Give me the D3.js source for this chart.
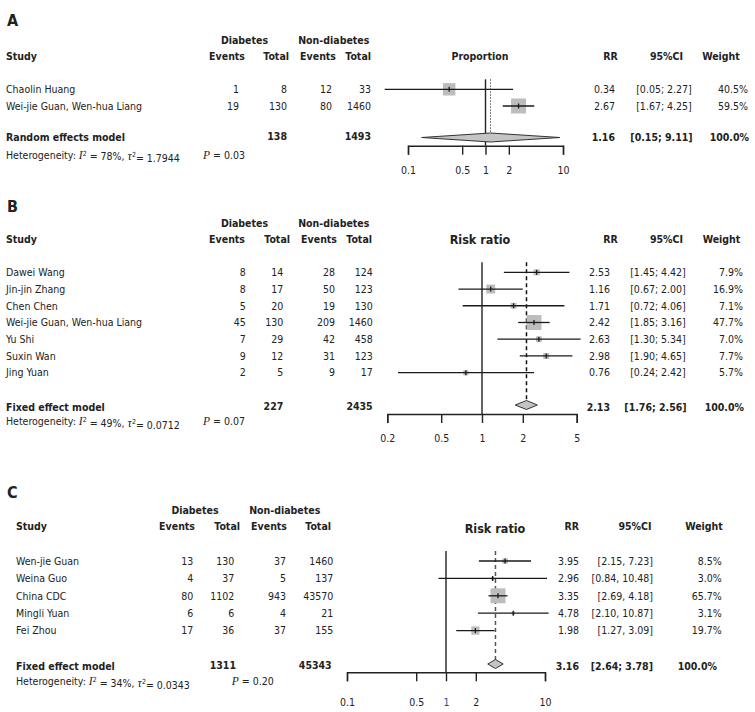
<!DOCTYPE html>
<html><head><meta charset="utf-8">
<script src="https://cdn.jsdelivr.net/npm/d3@7"></script>
<style>
body{margin:0;background:#fff}
svg text{font-family:"DejaVu Sans Condensed","DejaVu Sans",sans-serif;font-size:10.5px;fill:#222}
</style>
</head><body>
<svg id="chart" width="755" height="712"></svg>
<script>
// ---------- Panel A data ----------
const studiesA = ["Chaolin Huang", "Wei-jie Guan, Wen-hua Liang"];
const diabEventsA = [1, 19];
const diabTotalA = [8, 130];
const nonEventsA = [12, 80];
const nonTotalA = [33, 1460];
const rrA = [0.34, 2.67];
const lowerA = [0.05, 1.67];
const upperA = [2.27, 4.25];
const weightA = [40.5, 59.5];
const summaryA = [1.16, 0.15, 9.11];       // RR, lower, upper
const summaryTotalsA = [138, 1493];
const hetA = ["78%", "1.7944", "0.03"];      // I2, tau2, P
const ticksA = [0.1, 0.5, 1, 2, 10];

// ---------- Panel B data ----------
const studiesB = ["Dawei Wang", "Jin-jin Zhang", "Chen Chen", "Wei-jie Guan, Wen-hua Liang", "Yu Shi", "Suxin Wan", "Jing Yuan"];
const diabEventsB = [8, 8, 5, 45, 7, 9, 2];
const diabTotalB = [14, 17, 20, 130, 29, 12, 5];
const nonEventsB = [28, 50, 19, 209, 42, 31, 9];
const nonTotalB = [124, 123, 130, 1460, 458, 123, 17];
const rrB = [2.53, 1.16, 1.71, 2.42, 2.63, 2.98, 0.76];
const lowerB = [1.45, 0.67, 0.72, 1.85, 1.30, 1.90, 0.24];
const upperB = [4.42, 2.00, 4.06, 3.16, 5.34, 4.65, 2.42];
const weightB = [7.9, 16.9, 7.1, 47.7, 7.0, 7.7, 5.7];
const summaryB = [2.13, 1.76, 2.56];
const summaryTotalsB = [227, 2435];
const hetB = ["49%", "0.0712", "0.07"];
const ticksB = [0.2, 0.5, 1, 2, 5];

// ---------- Panel C data ----------
const studiesC = ["Wen-jie Guan", "Weina Guo", "China CDC", "Mingli Yuan", "Fei Zhou"];
const diabEventsC = [13, 4, 80, 6, 17];
const diabTotalC = [130, 37, 1102, 6, 36];
const nonEventsC = [37, 5, 943, 4, 37];
const nonTotalC = [1460, 137, 43570, 21, 155];
const rrC = [3.95, 2.96, 3.35, 4.78, 1.98];
const lowerC = [2.15, 0.84, 2.69, 2.10, 1.27];
const upperC = [7.23, 10.48, 4.18, 10.87, 3.09];
const weightC = [8.5, 3.0, 65.7, 3.1, 19.7];
const summaryC = [3.16, 2.64, 3.78];
const summaryTotalsC = [1311, 45343];
const hetC = ["34%", "0.0343", "0.20"];
const ticksC = [0.1, 0.5, 1, 2, 10];

const svg = d3.select("#chart");
const f2 = d3.format(".2f");
const f1 = d3.format(".1f");

function txt(g, x, y, s, opt = {}) {
  const t = g.append("text").attr("x", x).attr("y", y).attr("dy", "0.36em")
    .attr("text-anchor", opt.anchor || "start").text(s);
  if (opt.bold) t.attr("font-weight", "bold");
  if (opt.size) t.style("font-size", opt.size + "px");
  if (opt.fill) t.style("fill", opt.fill);
  return t;
}

function drawPanel(d, p) {
  const g = svg.append("g");
  const x = d3.scaleLog().domain(p.domain).range(p.range);
  const y = d3.scalePoint().domain(d.studies).range([p.rowY0, p.rowY0 + p.rowStep * (d.studies.length - 1)]);
  const sq = d3.scaleSqrt().domain([0, d3.max(d.weight)]).range([0, 15]);

  // letter
  txt(g, p.letterX, p.letterY, p.letter, {bold: true, size: 16});
  // group headers
  txt(g, p.diabC, p.headY1, "Diabetes", {bold: true, anchor: "middle"});
  txt(g, p.nonC, p.headY1, "Non-diabetes", {bold: true, anchor: "middle"});
  txt(g, p.studyX, p.headY2, "Study", {bold: true});
  ["Events", "Total", "Events", "Total"].forEach((h, i) =>
    txt(g, p.headRight[i], p.headY2, h, {bold: true, anchor: "end"}));
  txt(g, p.plotHeadC, p.plotHeadY, d.plotTitle, {bold: true, anchor: "middle", size: p.plotHeadSize});
  txt(g, p.rrHeadC, p.headY2, "RR", {bold: true, anchor: "middle"});
  txt(g, p.ciHeadC, p.headY2, "95%CI", {bold: true, anchor: "middle"});
  txt(g, p.wHeadC, p.headY2, "Weight", {bold: true, anchor: "middle"});

  // study rows
  d.studies.forEach((s, i) => {
    const yy = y(s);
    txt(g, p.studyX, yy, s);
    txt(g, p.valRight[0], yy, d.diabEvents[i], {anchor: "end"});
    txt(g, p.valRight[1], yy, d.diabTotal[i], {anchor: "end", fill: p.blueTotals ? "#1f4e8c" : null});
    txt(g, p.valRight[2], yy, d.nonEvents[i], {anchor: "end"});
    txt(g, p.valRight[3], yy, d.nonTotal[i], {anchor: "end"});
    txt(g, p.rrRight, yy, f2(d.rr[i]), {anchor: "end"});
    txt(g, p.ciX, yy, "[" + f2(d.lower[i]) + d.sep + " " + f2(d.upper[i]) + "]", {anchor: p.ciAnchor});
    txt(g, p.wRight, yy, f1(d.weight[i]) + "%", {anchor: "end"});
  });

  // summary row
  txt(g, p.studyX, p.sumY, d.sumLabel, {bold: true});
  txt(g, p.sumTotRight[0], p.sumTotY, d.sumTotals[0], {bold: true, anchor: "end"});
  txt(g, p.sumTotRight[1], p.sumTotY, d.sumTotals[1], {bold: true, anchor: "end"});
  txt(g, p.rrRight, p.sumY, f2(d.summary[0]), {bold: true, anchor: "end"});
  txt(g, p.sumCiX, p.sumY, "[" + f2(d.summary[1]) + "; " + f2(d.summary[2]) + "]", {bold: true, anchor: p.ciAnchor});
  txt(g, p.sumWRight, p.sumY, "100.0%", {bold: true, anchor: "end"});

  // heterogeneity
  const ht = g.append("text").attr("x", p.studyX).attr("y", p.hetY).attr("dy", "0.36em");
  ht.append("tspan").text("Heterogeneity: ");
  ht.append("tspan").text("I").style("font-family", "Liberation Serif, serif").style("font-style", "italic").style("font-size", "11.5px");
  ht.append("tspan").text("2").attr("dy", "-0.45em").style("font-size", "7px");
  ht.append("tspan").text(" = " + d.het[0] + ", ").attr("dy", "0.45em");
  ht.append("tspan").text("τ").style("font-family", "Liberation Serif, serif").style("font-style", "italic").style("font-size", "12px");
  ht.append("tspan").text("2").attr("dy", "-0.45em").style("font-size", "7px");
  ht.append("tspan").text("= " + d.het[1]).attr("dy", "0.45em");
  const pt = g.append("text").attr("x", p.pX).attr("y", p.hetY).attr("dy", "0.36em");
  pt.append("tspan").text("P").style("font-family", "Liberation Serif, serif").style("font-style", "italic").style("font-size", "11.5px");
  pt.append("tspan").text(" = " + d.het[2]);

  // reference line at 1
  g.append("line").attr("x1", x(1)).attr("x2", x(1)).attr("y1", p.refTop).attr("y2", p.axisY)
    .attr("stroke", "#222").attr("stroke-width", 1.4);
  // summary line
  g.append("line").attr("x1", x(d.summary[0])).attr("x2", x(d.summary[0]))
    .attr("y1", p.refTop).attr("y2", p.sumY - 5)
    .attr("stroke", p.sumLineColor).attr("stroke-width", p.sumLineWidth)
    .attr("stroke-dasharray", p.sumDash);

  // study marks
  d.studies.forEach((s, i) => {
    const yy = y(s), size = sq(d.weight[i]);
    g.append("rect").attr("x", x(d.rr[i]) - size / 2).attr("y", yy - size / 2)
      .attr("width", size).attr("height", size).attr("fill", "#bdbdbd");
    g.append("line").attr("x1", x(d.lower[i])).attr("x2", x(d.upper[i])).attr("y1", yy).attr("y2", yy)
      .attr("stroke", "#1a1a1a").attr("stroke-width", 1.3);
    g.append("line").attr("x1", x(d.rr[i])).attr("x2", x(d.rr[i])).attr("y1", yy - 2.5).attr("y2", yy + 2.5)
      .attr("stroke", "#1a1a1a").attr("stroke-width", 1.3);
  });

  // diamond
  const dy = p.diamondY, h = 4.5;
  g.append("path")
    .attr("d", `M${x(d.summary[1])},${dy}L${x(d.summary[0])},${dy - h}L${x(d.summary[2])},${dy}L${x(d.summary[0])},${dy + h}Z`)
    .attr("fill", "#c4c4c4").attr("stroke", "#333").attr("stroke-width", 1);

  // axis
  const ax = g.append("g").attr("transform", `translate(0,${p.axisY})`)
    .call(d3.axisBottom(x).tickValues(d.ticks).tickFormat(v => String(v)).tickSize(9).tickSizeOuter(9).tickPadding(p.tickPad));
  ax.select(".domain").attr("stroke", "#222").attr("stroke-width", 1.4);
  ax.selectAll(".tick line").attr("stroke", "#222").attr("stroke-width", 1.4);
  ax.selectAll(".tick text").style("font-family", "DejaVu Sans Condensed, DejaVu Sans, sans-serif")
    .style("font-size", "10.5px").style("fill", v => (p.blueOne && v === 1) ? "#1f4e8c" : "#222");
}

drawPanel({
  studies: studiesA, diabEvents: diabEventsA, diabTotal: diabTotalA, nonEvents: nonEventsA, nonTotal: nonTotalA,
  rr: rrA, lower: lowerA, upper: upperA, weight: weightA, summary: summaryA, sumTotals: summaryTotalsA,
  het: hetA, ticks: ticksA, sep: ";", sumLabel: "Random effects model", plotTitle: "Proportion"
}, {
  letter: "A", letterX: 7, letterY: 20, headY1: 40.7, headY2: 56.7, studyX: 6,
  diabC: 244.5, nonC: 333.8, headRight: [245, 289, 336, 371], valRight: [239, 287, 332, 371],
  rowY0: 89.3, rowStep: 16.7, sumY: 137.7, sumTotY: 136.5, sumTotRight: [287, 371], hetY: 155, pX: 203,
  domain: [0.1, 10], range: [408, 563], refTop: 79.3, axisY: 145.7, tickPad: 12, diamondY: 137.5,
  plotHeadC: 480, plotHeadY: 56.7, plotHeadSize: 10.5,
  rrHeadC: 610.5, ciHeadC: 666.5, wHeadC: 721,
  rrRight: 615, ciX: 664, ciAnchor: "middle", wRight: 748, sumCiX: 661.5, sumWRight: 749,
  sumLineColor: "#555", sumLineWidth: 1, sumDash: "1.5,1.5"
});

drawPanel({
  studies: studiesB, diabEvents: diabEventsB, diabTotal: diabTotalB, nonEvents: nonEventsB, nonTotal: nonTotalB,
  rr: rrB, lower: lowerB, upper: upperB, weight: weightB, summary: summaryB, sumTotals: summaryTotalsB,
  het: hetB, ticks: ticksB, sep: ";", sumLabel: "Fixed effect model", plotTitle: "Risk ratio"
}, {
  letter: "B", letterX: 7, letterY: 206, headY1: 223.3, headY2: 239, studyX: 6,
  diabC: 244.5, nonC: 333.8, headRight: [245, 290, 337, 372], valRight: [245.7, 283.3, 335, 372.7],
  rowY0: 272.3, rowStep: 16.73, sumY: 407.7, sumTotY: 406.5, sumTotRight: [283.3, 372.7], hetY: 421.7, pX: 203,
  domain: [0.2, 5], range: [387.3, 576.7], refTop: 262.3, axisY: 414, tickPad: 12, diamondY: 405,
  plotHeadC: 480, plotHeadY: 239.5, plotHeadSize: 12.5,
  rrHeadC: 610.5, ciHeadC: 666.5, wHeadC: 721.5,
  rrRight: 610, ciX: 658, ciAnchor: "middle", wRight: 743, sumCiX: 655.5, sumWRight: 744,
  sumLineColor: "#111", sumLineWidth: 1.5, sumDash: "4,3"
});

drawPanel({
  studies: studiesC, diabEvents: diabEventsC, diabTotal: diabTotalC, nonEvents: nonEventsC, nonTotal: nonTotalC,
  rr: rrC, lower: lowerC, upper: upperC, weight: weightC, summary: summaryC, sumTotals: summaryTotalsC,
  het: hetC, ticks: ticksC, sep: ",", sumLabel: "Fixed effect model", plotTitle: "Risk ratio"
}, {
  letter: "C", letterX: 7, letterY: 492.7, headY1: 510.7, headY2: 526.7, studyX: 16,
  diabC: 195, nonC: 284.7, headRight: [195, 240, 287, 331], valRight: [193.3, 234.3, 286, 333.3],
  rowY0: 561, rowStep: 17.4, sumY: 666.7, sumTotY: 665, sumTotRight: [236, 331.7], hetY: 681.7, pX: 231.7,
  domain: [0.1, 10], range: [347, 545], refTop: 551, axisY: 672.3, tickPad: 17, diamondY: 664,
  plotHeadC: 495, plotHeadY: 528, plotHeadSize: 12.5,
  rrHeadC: 571.7, ciHeadC: 635, wHeadC: 704,
  rrRight: 579, ciX: 653, ciAnchor: "end", wRight: 721.7, sumCiX: 653, sumWRight: 717,
  sumLineColor: "#555", sumLineWidth: 1.5, sumDash: "4,3", blueOne: true
});
</script>
</body></html>
